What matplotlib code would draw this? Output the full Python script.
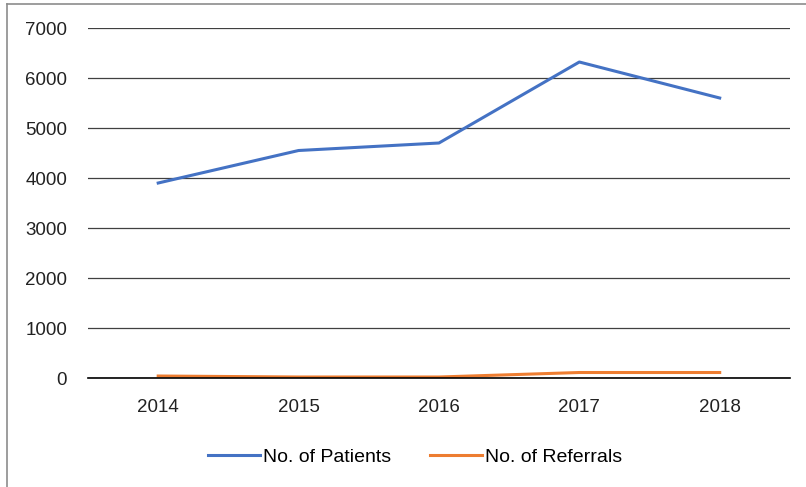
import matplotlib
matplotlib.use("Agg")
import matplotlib.pyplot as plt
from matplotlib.lines import Line2D

years = ["2014", "2015", "2016", "2017", "2018"]
patients = [3900, 4550, 4700, 6320, 5600]
referrals = [40, 20, 20, 110, 110]

plt.rcParams['font.family'] = ['Liberation Sans', 'DejaVu Sans']

fig = plt.figure(figsize=(8.06, 4.87), dpi=100)
ax = fig.add_axes([0.1092, 0.2238, 0.8708, 0.7187])

x = range(len(years))
ax.plot(x, patients, color="#4472C4", linewidth=2.2, label="No. of Patients")
ax.plot(x, referrals, color="#ED7D31", linewidth=2.2, label="No. of Referrals")

ax.set_xlim(-0.5, 4.5)
ax.set_ylim(0, 7000)
ax.set_yticks(range(0, 7001, 1000))
ax.set_xticks(list(x))
ax.set_xticklabels(years)
ax.yaxis.grid(True, color="#404040", linewidth=0.9)
ax.set_axisbelow(True)
for s in ["top", "right", "left"]:
    ax.spines[s].set_visible(False)
ax.spines["bottom"].set_color("black")
ax.spines["bottom"].set_linewidth(1.2)
ax.tick_params(axis="both", length=0, labelsize=13.5, colors="#222222")
ax.tick_params(axis="y", pad=15)
ax.tick_params(axis="x", pad=15)

ax.legend(loc="upper center", bbox_to_anchor=(0.466, -0.15), ncol=2, frameon=False,
          fontsize=14, handlelength=2.67, handletextpad=0.2, columnspacing=1.96)

# outer frame (top and left only)
fig.add_artist(Line2D([7 / 806, 1.0], [1 - 4 / 487, 1 - 4 / 487], color="#8c8c8c", linewidth=1.2))
fig.add_artist(Line2D([7 / 806, 7 / 806], [0, 1 - 4 / 487], color="#8c8c8c", linewidth=1.2))

fig.savefig("out.png", dpi=100)
